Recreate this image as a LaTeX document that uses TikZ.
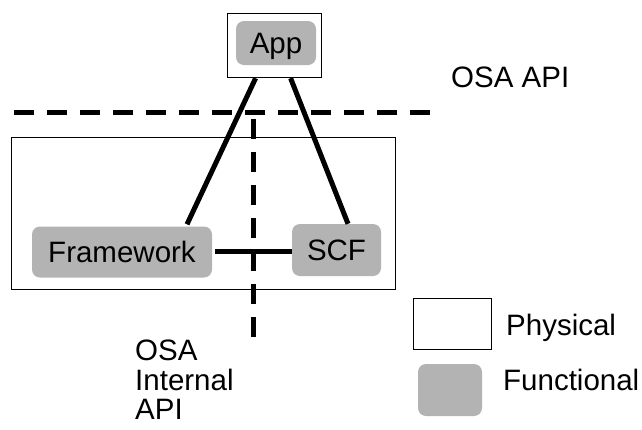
\documentclass[tikz,border=0pt]{standalone}
\usepackage{fontspec}
\setmainfont{Liberation Sans}
\definecolor{fgray}{RGB}{179,179,179}
\begin{document}
\begin{tikzpicture}[x=1pt,y=-1pt,
  phys/.style={draw=black,line width=1.2pt,fill=white,inner sep=0pt,anchor=north west},
  func/.style={fill=fgray,rounded corners=8pt,inner sep=0pt,text height=21pt,text depth=0pt,font=\fontsize{29.5}{31}\selectfont},
  lbl/.style={inner sep=0pt,anchor=base west,font=\fontsize{29.5}{31}\selectfont,align=left},
  link/.style={line width=5pt},
  apiline/.style={line width=5pt,dash pattern=on 20pt off 13pt}]
\useasboundingbox (0,0) rectangle (642,429);
% physical boxes
\node[phys,minimum width=94pt,minimum height=64pt] (appbox) at (227,13) {};
\node[phys,minimum width=384pt,minimum height=152pt] (sysbox) at (11,137) {};
% functional boxes
\node[func,minimum width=80pt,minimum height=44pt] (app) at (276,43) {App};
\node[func,minimum width=180pt,minimum height=51pt] (fw) at (122,252) {Framework};
\node[func,minimum width=89pt,minimum height=52pt] (scf) at (336.5,250) {SCF};
% API lines
\coordinate (h1) at (14,112);
\coordinate (h2) at (434,112);
\coordinate (v1) at (253,119);
\coordinate (v2) at (253,338);
\draw[apiline] (h1) -- (h2);
\draw[apiline] (v1) -- (v2);
% connectors
\draw[link] ([xshift=-19pt]appbox.south) -- ([xshift=65pt,yshift=2pt]fw.north);
\draw[link] ([xshift=16pt]appbox.south) -- ([xshift=11.5pt]scf.north);
\draw[link] ([xshift=3pt,yshift=1pt]fw.east) -- ([yshift=1pt]fw.east -| scf.west);
% labels
\node[lbl] (osaapi) at (451,87) {OSA API};
\node[lbl,anchor=north west,font=\fontsize{29.5}{29.5}\selectfont] (osaint) at (135,340) {OSA\\Internal\\API};
% legend
\node[phys,minimum width=78pt,minimum height=51pt] (legphys) at (413,298) {};
\node[lbl] (physlbl) at (506,335) {Physical};
\node[func,minimum width=64pt,minimum height=52pt] (legfunc) at (450,390) {};
\node[lbl] (funclbl) at (503,390) {Functional};
\end{tikzpicture}
\end{document}
